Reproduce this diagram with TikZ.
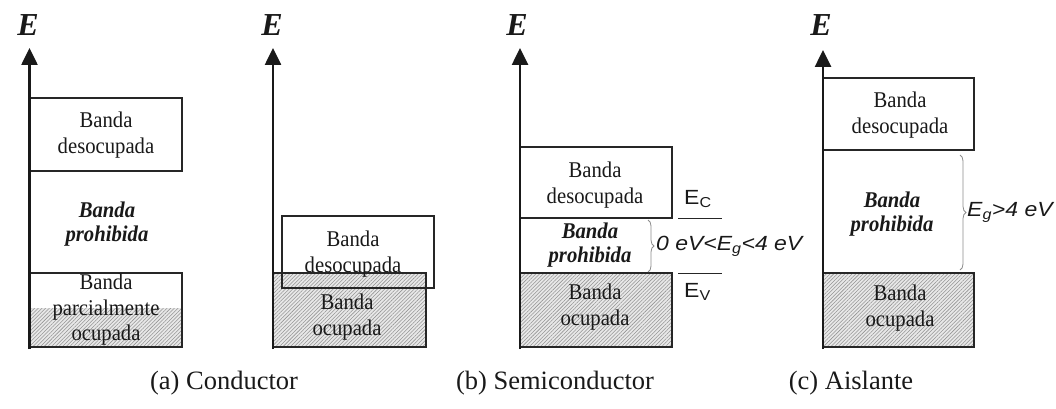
\documentclass[tikz,border=0pt]{standalone}
\usepackage{fontspec}
\setmainfont{Liberation Serif}
\setsansfont{Liberation Sans}
\newfontfamily\bandfont[FakeStretch=0.92]{Liberation Serif}
\newfontfamily\gapfont[FakeStretch=1.12]{Liberation Sans}
\usetikzlibrary{arrows.meta,patterns.meta,decorations.pathreplacing}
\begin{document}
\begin{tikzpicture}[x=1pt,y=-1pt,
  band/.style={draw=black!85, line width=1.3pt, inner sep=0pt, outer sep=0pt, anchor=north west},
  hatchbg/.style={fill=gray!18},
  hatch/.style={pattern={Lines[angle=45,distance=2.6pt,line width=0.55pt]}, pattern color=gray!85},
  lbl/.style={font=\bandfont\fontsize{22.5}{25.5}\selectfont, text=black!90, align=center, inner sep=0pt},
  forb/.style={font=\bandfont\fontsize{22.5}{24}\selectfont\bfseries\itshape, text=black!90, align=center, inner sep=0pt},
  axisline/.style={line width=2.6pt, draw=black!90, -{Triangle[length=17pt,width=16pt]}},
  elab/.style={font=\fontsize{32}{32}\selectfont\bfseries\itshape, text=black!90, inner sep=0pt},
  caplbl/.style={font=\fontsize{26.5}{26.5}\selectfont, text=black!90, inner sep=0pt},
  sanslbl/.style={font=\gapfont\fontsize{20.5}{20.5}\selectfont, text=black!90, inner sep=0pt, anchor=west},
  lvl/.style={line width=1pt, draw=black!85},
  brc/.style={decorate, decoration={brace, amplitude=6pt}, draw=gray!90, line width=0.8pt}
]
\useasboundingbox (0,0) rectangle (1056,409);

% ---------- (a) Conductor, first panel ----------
\fill[hatchbg] (29,308) rectangle (182,347);
\fill[hatch] (29,308) rectangle (182,347);
\node[band, minimum width=153pt, minimum height=73pt] (a1) at (29,98) {};
\node[band, minimum width=153pt, minimum height=74pt] (a3) at (29,273) {};
\node[lbl] (a1t) at (106,135) {Banda\\desocupada};
\node[forb] (a2t) at (107,224) {Banda\\prohibida};
\node[lbl] (a3t) at (106,310) {Banda\\parcialmente\\ocupada};
\coordinate (ab) at (29.5,349);
\coordinate (at) at (29.5,48);
\draw[axisline] (ab) -- (at);
\node[elab] (aE) at (28,25) {E};

% ---------- (a) Conductor, second panel ----------
\fill[hatchbg] (273,273) rectangle (426,347);
\fill[hatch] (273,273) rectangle (426,347);
\node[band, minimum width=152pt, minimum height=72pt] (b1) at (282,216) {};
\node[band, minimum width=153pt, minimum height=74pt] (b2) at (273,273) {};
\node[lbl] (b1t) at (353,254) {Banda\\desocupada};
\node[lbl] (b2t) at (347,317) {Banda\\ocupada};
\coordinate (bb) at (273,349);
\coordinate (bt) at (273,48);
\draw[axisline] (bb) -- (bt);
\node[elab] (bE) at (272,25) {E};

% ---------- (b) Semiconductor ----------
\fill[hatchbg] (520,273) rectangle (672,347);
\fill[hatch] (520,273) rectangle (672,347);
\node[band, minimum width=152pt, minimum height=71pt] (c1) at (520,147) {};
\node[band, minimum width=152pt, minimum height=74pt] (c3) at (520,273) {};
\node[lbl] (c1t) at (595,185) {Banda\\desocupada};
\node[forb] (c2t) at (590,245) {Banda\\prohibida};
\node[lbl] (c3t) at (595,307) {Banda\\ocupada};
\coordinate (cb) at (520,349);
\coordinate (ct) at (520,48);
\draw[axisline] (cb) -- (ct);
\node[elab] (cE) at (517,25) {E};
\coordinate (ec1) at (678,218);
\coordinate (ec2) at (722,218);
\coordinate (ev1) at (678,273);
\coordinate (ev2) at (722,273);
\draw[lvl] (ec1) -- (ec2);
\draw[lvl] (ev1) -- (ev2);
\node[sanslbl] (EC) at (684,199) {E\textsubscript{C}};
\node[sanslbl] (EV) at (684,292) {E\textsubscript{V}};
\coordinate (cbr1) at (648,220);
\coordinate (cbr2) at (648,272);
\draw[brc] (cbr1) -- (cbr2);
\node[sanslbl] (cgap) at (656,246) {\itshape 0 eV<E\textsubscript{g}<4 eV};

% ---------- (c) Aislante ----------
\fill[hatchbg] (823,273) rectangle (974,347);
\fill[hatch] (823,273) rectangle (974,347);
\node[band, minimum width=151pt, minimum height=72pt] (d1) at (823,78) {};
\node[band, minimum width=151pt, minimum height=74pt] (d3) at (823,273) {};
\node[lbl] (d1t) at (900,115) {Banda\\desocupada};
\node[forb] (d2t) at (892,214) {Banda\\prohibida};
\node[lbl] (d3t) at (900,308) {Banda\\ocupada};
\coordinate (db) at (823,349);
\coordinate (dt) at (823,50);
\draw[axisline] (db) -- (dt);
\node[elab] (dE) at (821,25) {E};
\coordinate (dbr1) at (960,155);
\coordinate (dbr2) at (960,270);
\draw[brc] (dbr1) -- (dbr2);
\node[sanslbl] (dgap) at (967,212) {\itshape E\textsubscript{g}>4 eV};

% ---------- captions ----------
\node[caplbl] (capa) at (224,383) {(a) Conductor};
\node[caplbl] (capb) at (555,383) {(b) Semiconductor};
\node[caplbl] (capc) at (851,383) {(c) Aislante};
\end{tikzpicture}
\end{document}
